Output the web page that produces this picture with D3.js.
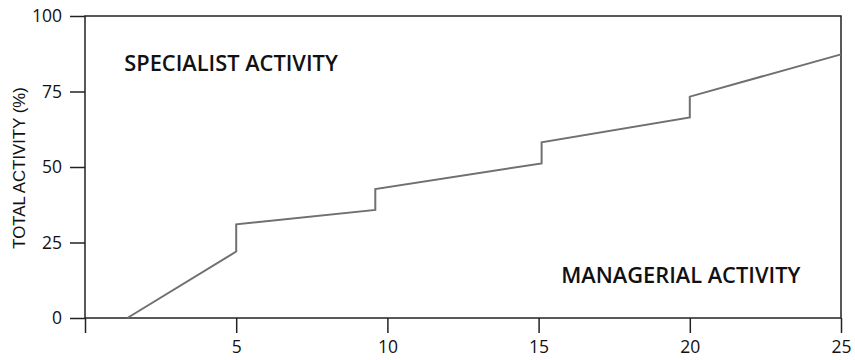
<!DOCTYPE html>
<html>
<head>
<meta charset="utf-8">
<script src="https://cdn.jsdelivr.net/npm/d3@7"></script>
<style>
  body { margin: 0; background: #fff; }
  .tick text { font-family: "Open Sans", sans-serif; font-size: 17.5px; fill: #111; }
  .note { font-family: "Open Sans", sans-serif; font-weight: 600; font-size: 21.8px; fill: #111; }
  .ylabel { font-family: "Liberation Sans", Arial, sans-serif; font-size: 16.8px; fill: #111; }
</style>
</head>
<body>
<svg id="chart" width="855" height="360"></svg>
<script>
// years of experience vs share of total activity (step at each promotion)
const xValues = [1.4, 5, 5, 9.6, 9.6, 15.1, 15.1, 20, 20, 25];
const yValues = [0, 22, 31, 35.8, 42.7, 51.2, 58.2, 66.4, 73.3, 87.3];
const xTicks = [0, 5, 10, 15, 20, 25];
const yTicks = [0, 25, 50, 75, 100];
const labels = ["SPECIALIST ACTIVITY", "MANAGERIAL ACTIVITY"];

const svg = d3.select("#chart");
const margin = { top: 16, right: 14, bottom: 42, left: 85 };
const width = 855 - margin.left - margin.right;
const height = 360 - margin.top - margin.bottom;

const g = svg.append("g")
  .attr("transform", `translate(${margin.left},${margin.top})`);

const x = d3.scaleLinear().domain([0, 25]).range([0, width]);
const y = d3.scaleLinear().domain([0, 100]).range([height, 0]);

// axes
const xAxis = g.append("g")
  .attr("transform", `translate(0,${height})`)
  .call(d3.axisBottom(x).tickValues(xTicks).tickSize(15).tickPadding(8)
    .tickFormat(d => d === 0 ? "" : d));

const yAxis = g.append("g")
  .call(d3.axisLeft(y).tickValues(yTicks).tickSize(15).tickPadding(8));

[xAxis, yAxis].forEach(a => {
  a.select(".domain").remove();
  a.selectAll(".tick line").attr("stroke", "#222").attr("stroke-width", 1.5);
});

// frame
g.append("rect")
  .attr("x", 0).attr("y", 0)
  .attr("width", width).attr("height", height)
  .attr("fill", "none")
  .attr("stroke", "#222")
  .attr("stroke-width", 1.5);

// the line
const pts = xValues.map((d, i) => [d, yValues[i]]);
g.append("path")
  .datum(pts)
  .attr("fill", "none")
  .attr("stroke", "#707070")
  .attr("stroke-width", 2)
  .attr("d", d3.line().x(d => x(d[0])).y(d => y(d[1])));

// labels
g.append("text")
  .attr("class", "note")
  .attr("x", x(1.3))
  .attr("y", y(81.8))
  .text(labels[0]);

g.append("text")
  .attr("class", "note")
  .attr("x", x(15.75))
  .attr("y", y(11.6))
  .text(labels[1]);

svg.append("text")
  .attr("class", "ylabel")
  .attr("transform", "rotate(-90)")
  .attr("x", -168)
  .attr("y", 25)
  .attr("text-anchor", "middle")
  .text("TOTAL ACTIVITY (%)");
</script>
</body>
</html>
